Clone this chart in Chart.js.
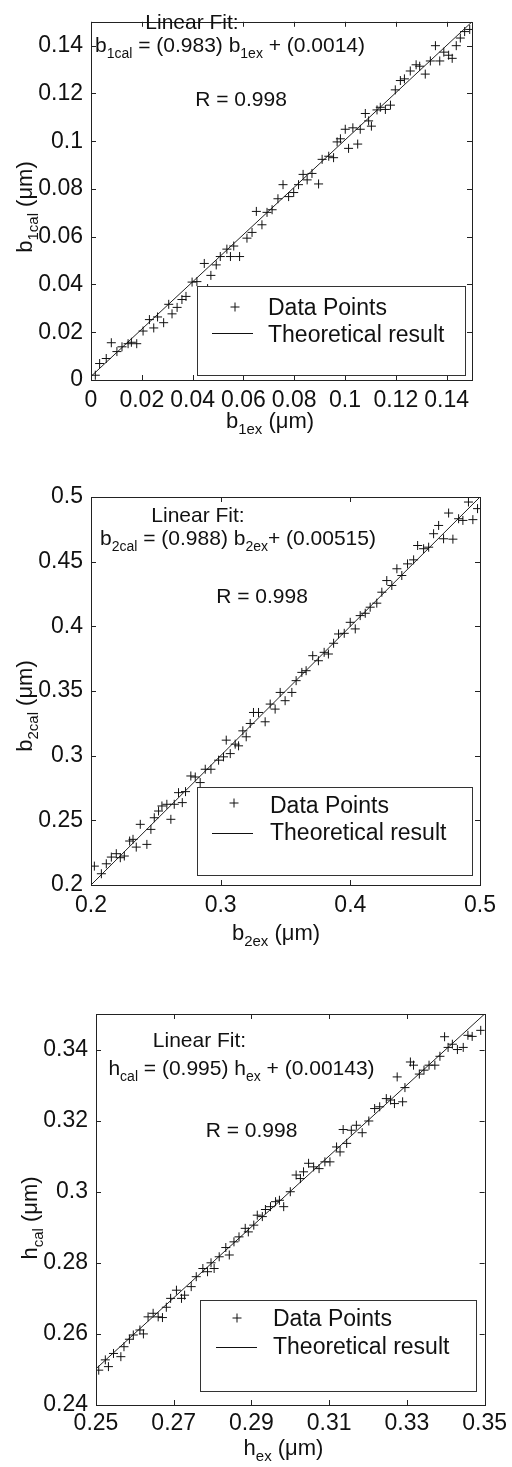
<!DOCTYPE html>
<html>
<head>
<meta charset="utf-8">
<script src="https://cdn.jsdelivr.net/npm/chart.js@4.4.1/dist/chart.umd.min.js"></script>
<style>
  body { margin: 0; background: #fff; width: 512px; height: 1467px; position: relative; overflow: hidden; }
  canvas { position: absolute; left: 0; }
</style>
</head>
<body>
<canvas id="c1" width="512" height="440" style="top:0px"></canvas>
<canvas id="c2" width="512" height="520" style="top:440px"></canvas>
<canvas id="c3" width="512" height="507" style="top:960px"></canvas>
<script>
// ---- data: b1 ----
var b1ex  = [0.0017,0.0034,0.006,0.008,0.0102,0.0122,0.0146,0.0159,0.018,0.0205,0.023,0.0247,0.0262,0.0286,0.0306,0.0319,0.0339,0.0358,0.0374,0.0398,0.0417,0.0446,0.0459,0.0472,0.0493,0.0509,0.0535,0.0549,0.0562,0.0585,0.0614,0.0634,0.0651,0.0673,0.0693,0.0713,0.0736,0.0756,0.0778,0.0798,0.0817,0.0835,0.0851,0.087,0.0896,0.091,0.0936,0.0955,0.0969,0.0982,0.1001,0.1014,0.1031,0.105,0.106,0.108,0.1093,0.1104,0.1126,0.1139,0.1159,0.1179,0.1198,0.1218,0.1234,0.1257,0.128,0.1294,0.1316,0.1336,0.1356,0.1373,0.1389,0.1408,0.1422,0.1438,0.1454,0.1471,0.1491];
var b1cal = [0.002,0.0069,0.009,0.0156,0.0119,0.0139,0.0152,0.0158,0.0152,0.0205,0.0253,0.0218,0.0264,0.024,0.0317,0.0277,0.0304,0.0337,0.035,0.041,0.0412,0.0488,0.0383,0.0438,0.0482,0.0517,0.0548,0.0517,0.0561,0.0517,0.0594,0.0618,0.0706,0.065,0.0702,0.0713,0.0759,0.0818,0.0768,0.0785,0.0818,0.0861,0.0838,0.0865,0.0821,0.0924,0.0937,0.0931,0.0997,0.101,0.105,0.097,0.1056,0.0988,0.105,0.1116,0.1085,0.1063,0.1131,0.1142,0.1133,0.1151,0.1215,0.1254,0.1261,0.1294,0.132,0.1314,0.1281,0.1336,0.14,0.1336,0.1373,0.136,0.1347,0.14,0.1432,0.1459,0.1468];
var b1LineX = [0, 0.15];
var b1LineY = [0.0015, 0.15];
var b1TicksX = [0, 0.02, 0.04, 0.06, 0.08, 0.1, 0.12, 0.14];
var b1TicksY = [0, 0.02, 0.04, 0.06, 0.08, 0.1, 0.12, 0.14];

// ---- data: b2 ----
var b2ex  = [0.2026,0.208,0.2118,0.2157,0.2195,0.2226,0.2257,0.2298,0.2324,0.2349,0.238,0.2431,0.2462,0.2488,0.2521,0.2547,0.2585,0.2616,0.2642,0.2675,0.2704,0.2729,0.277,0.2804,0.2842,0.2881,0.2925,0.2984,0.3022,0.3043,0.3074,0.3112,0.3138,0.3171,0.3197,0.3228,0.3253,0.3292,0.3343,0.3382,0.342,0.3459,0.3497,0.3549,0.3582,0.3626,0.3659,0.371,0.3754,0.3798,0.3831,0.3871,0.3909,0.3953,0.3999,0.4038,0.4076,0.4115,0.4153,0.4204,0.4243,0.4281,0.432,0.4359,0.4397,0.4441,0.4488,0.4519,0.4565,0.4604,0.4642,0.4681,0.4719,0.4758,0.4791,0.4835,0.4868,0.4911,0.4945,0.4981];
var b2cal = [0.2146,0.2087,0.2164,0.2216,0.2242,0.2211,0.2224,0.234,0.2353,0.2293,0.2469,0.2314,0.243,0.252,0.2572,0.2611,0.2624,0.2508,0.2624,0.2714,0.2637,0.2722,0.2843,0.2835,0.2792,0.2895,0.2895,0.2965,0.2991,0.312,0.3016,0.3089,0.3076,0.3192,0.3146,0.3249,0.3334,0.3334,0.3262,0.3399,0.336,0.3489,0.3425,0.3489,0.358,0.3644,0.3657,0.3773,0.3734,0.3799,0.3786,0.3869,0.3941,0.3946,0.4031,0.398,0.4083,0.4101,0.4148,0.4179,0.4264,0.4354,0.4316,0.4445,0.4393,0.4483,0.4514,0.4625,0.46,0.4612,0.4716,0.478,0.4677,0.4876,0.4674,0.4832,0.4819,0.4961,0.4825,0.491];
var b2LineX = [0.2, 0.5];
var b2LineY = [0.2, 0.5];
var b2TicksX = [0.2, 0.3, 0.4, 0.5];
var b2TicksY = [0.2, 0.25, 0.3, 0.35, 0.4, 0.45, 0.5];

// ---- data: h ----
var hex  = [0.2507,0.2524,0.2532,0.2545,0.2564,0.2572,0.2586,0.2596,0.2613,0.2622,0.2634,0.2647,0.266,0.2671,0.2681,0.2692,0.2707,0.272,0.2728,0.2745,0.2758,0.2775,0.2787,0.2796,0.2804,0.2817,0.2834,0.2843,0.2855,0.2868,0.2884,0.2892,0.2906,0.2915,0.2928,0.2936,0.2949,0.2962,0.2972,0.2983,0.3,0.3015,0.3026,0.3034,0.3047,0.306,0.3074,0.3089,0.3102,0.3119,0.3128,0.3136,0.3145,0.3157,0.317,0.3185,0.3202,0.3217,0.323,0.3247,0.3258,0.3268,0.3275,0.3289,0.3295,0.3309,0.3317,0.3332,0.3344,0.3357,0.3372,0.3385,0.3397,0.3406,0.3417,0.343,0.3445,0.3457,0.3468,0.349];
var hcal = [0.2498,0.2527,0.2508,0.2545,0.2536,0.2564,0.2585,0.2597,0.2611,0.26,0.2648,0.2658,0.2648,0.2646,0.2675,0.27,0.2723,0.27,0.2709,0.2733,0.2761,0.2784,0.2775,0.28,0.2784,0.2817,0.2843,0.2822,0.2859,0.2873,0.2897,0.2887,0.2906,0.2934,0.293,0.295,0.2958,0.2972,0.2976,0.2958,0.3,0.3047,0.3037,0.3056,0.308,0.307,0.3065,0.3084,0.3084,0.3126,0.3112,0.3175,0.3136,0.3173,0.3187,0.3166,0.3199,0.3234,0.3239,0.3262,0.3258,0.3248,0.3323,0.3253,0.3293,0.3365,0.3356,0.3331,0.3342,0.3356,0.3356,0.3381,0.3436,0.3406,0.3415,0.34,0.3406,0.344,0.3437,0.3454];
var hLineX = [0.25, 0.35];
var hLineY = [0.2502, 0.35];
var hTicksX = [0.25, 0.27, 0.29, 0.31, 0.33, 0.35];
var hTicksY = [0.24, 0.26, 0.28, 0.3, 0.32, 0.34];

var FONT = '"Liberation Sans", Arial, Helvetica, sans-serif';
var INK = '#111';
Chart.defaults.font.family = FONT;

function zip(xs, ys) {
  return xs.map(function (x, i) { return { x: x, y: ys[i] }; });
}

// text with subscripts: segs = [[text, isSub], ...]
function richText(ctx, segs, x, y, size, rotate) {
  var sub = Math.round(size * 0.66);
  var w = 0;
  segs.forEach(function (s) {
    ctx.font = (s[1] ? sub : size) + 'px ' + FONT;
    s.w = ctx.measureText(s[0]).width;
    w += s.w;
  });
  ctx.save();
  ctx.translate(x, y);
  if (rotate) ctx.rotate(-Math.PI / 2);
  ctx.fillStyle = INK;
  ctx.textAlign = 'left';
  ctx.textBaseline = 'alphabetic';
  var cx = -w / 2;
  segs.forEach(function (s) {
    ctx.font = (s[1] ? sub : size) + 'px ' + FONT;
    ctx.fillText(s[0], cx, s[1] ? size * 0.28 : 0);
    cx += s.w;
  });
  ctx.restore();
}

var framePlugin = {
  id: 'frame',
  afterDatasetsDraw: function (chart) {
    var ctx = chart.ctx, a = chart.chartArea, p = chart.options.plugins.frame;
    var xs = chart.scales.x, ys = chart.scales.y;
    ctx.save();
    ctx.strokeStyle = '#222';
    ctx.lineWidth = 1;
    ctx.strokeRect(Math.round(a.left) + 0.5, Math.round(a.top) + 0.5, Math.round(a.right - a.left), Math.round(a.bottom - a.top));
    // inner ticks on all four sides
    ctx.beginPath();
    xs.ticks.forEach(function (t) {
      var px = Math.round(xs.getPixelForValue(t.value)) + 0.5;
      ctx.moveTo(px, a.bottom); ctx.lineTo(px, a.bottom - 5);
      ctx.moveTo(px, a.top); ctx.lineTo(px, a.top + 5);
    });
    ys.ticks.forEach(function (t) {
      var py = Math.round(ys.getPixelForValue(t.value)) + 0.5;
      ctx.moveTo(a.left, py); ctx.lineTo(a.left + 5, py);
      ctx.moveTo(a.right, py); ctx.lineTo(a.right - 5, py);
    });
    ctx.stroke();

    // legend box
    var L = p.legend;
    ctx.fillStyle = '#fff';
    ctx.fillRect(L.x0, L.y0, L.x1 - L.x0, L.y1 - L.y0);
    ctx.strokeStyle = '#333';
    ctx.strokeRect(L.x0 + 0.5, L.y0 + 0.5, L.x1 - L.x0, L.y1 - L.y0);
    ctx.strokeStyle = INK;
    ctx.beginPath();
    ctx.moveTo(L.mx - 4.5, L.my); ctx.lineTo(L.mx + 4.5, L.my);
    ctx.moveTo(L.mx, L.my - 4.5); ctx.lineTo(L.mx, L.my + 4.5);
    ctx.moveTo(L.lx0, L.ly + 0.5); ctx.lineTo(L.lx1, L.ly + 0.5);
    ctx.stroke();
    ctx.fillStyle = INK;
    ctx.font = '23px ' + FONT;
    ctx.textAlign = 'left';
    ctx.textBaseline = 'alphabetic';
    ctx.fillText(chart.data.datasets[0].label, L.tx, L.t1);
    ctx.fillText(chart.data.datasets[1].label, L.tx, L.t2);
    ctx.restore();

    // annotations and axis titles
    p.texts.forEach(function (t) {
      richText(ctx, t.segs, t.x, t.y, t.size, t.rot);
    });
  }
};

function makeChart(id, p) {
  var cv = document.getElementById(id);
  var H = cv.height;
  var tickFont = { size: 23, family: FONT };
  function fmt(v) { return String(+v.toFixed(4)); }
  return new Chart(cv.getContext('2d'), {
    type: 'scatter',
    data: {
      datasets: [
        { label: 'Data Points', data: zip(p.xs, p.ys), pointStyle: 'cross', pointRadius: 4.5,
          pointBorderColor: INK, pointBorderWidth: 1, showLine: false, order: 1 },
        { label: 'Theoretical result', data: zip(p.lx, p.ly), showLine: true, borderColor: '#222',
          borderWidth: 1, pointRadius: 0, fill: false, order: 2 }
      ]
    },
    options: {
      responsive: false,
      animation: false,
      events: [],
      layout: { padding: { left: 0, top: p.area.top, right: 512 - p.area.right, bottom: 0 } },
      plugins: {
        legend: { display: false },
        tooltip: { enabled: false },
        frame: { legend: p.legend, texts: p.texts }
      },
      scales: {
        x: {
          type: 'linear', min: p.xr[0], max: p.xr[1],
          afterBuildTicks: function (s) { s.ticks = p.xt.map(function (v) { return { value: v }; }); },
          afterFit: function (s) { s.height = H - p.area.bottom; },
          grid: { display: false, drawTicks: false },
          border: { display: false },
          ticks: { color: INK, font: tickFont, padding: p.xpad, autoSkip: false, maxRotation: 0, minRotation: 0, callback: fmt }
        },
        y: {
          type: 'linear', min: p.yr[0], max: p.yr[1],
          afterBuildTicks: function (s) { s.ticks = p.yt.map(function (v) { return { value: v }; }); },
          afterFit: function (s) { s.width = p.area.left; },
          grid: { display: false, drawTicks: false },
          border: { display: false },
          ticks: { color: INK, font: tickFont, padding: 8, autoSkip: false, callback: fmt }
        }
      }
    },
    plugins: [framePlugin]
  });
}

makeChart('c1', {
  xs: b1ex, ys: b1cal, lx: b1LineX, ly: b1LineY, xt: b1TicksX, yt: b1TicksY,
  xr: [0, 0.15], yr: [0, 0.15], xpad: 7,
  area: { left: 91, top: 4, right: 472, bottom: 380 },
  legend: { x0: 197, y0: 286, x1: 465, y1: 375, mx: 235, my: 307, lx0: 212, lx1: 253, ly: 333, tx: 268, t1: 315, t2: 342 },
  texts: [
    { x: 192, y: 28.5, size: 21, segs: [['Linear Fit:']] },
    { x: 230, y: 52, size: 21, segs: [['b'], ['1cal', 1], [' = (0.983) b'], ['1ex', 1], [' + (0.0014)']] },
    { x: 241, y: 106, size: 21, segs: [['R = 0.998']] },
    { x: 270, y: 428, size: 22, segs: [['b'], ['1ex', 1], [' (\u03bcm)']] },
    { x: 32, y: 207, size: 22, rot: 1, segs: [['b'], ['1cal', 1], [' (\u03bcm)']] }
  ]
});

makeChart('c2', {
  xs: b2ex, ys: b2cal, lx: b2LineX, ly: b2LineY, xt: b2TicksX, yt: b2TicksY,
  xr: [0.2, 0.5], yr: [0.2, 0.5], xpad: 7,
  area: { left: 91, top: 57, right: 480, bottom: 445 },
  legend: { x0: 197, y0: 347, x1: 472, y1: 435, mx: 234, my: 363, lx0: 212, lx1: 253, ly: 393, tx: 270, t1: 373, t2: 400 },
  texts: [
    { x: 198, y: 81.7, size: 21, segs: [['Linear Fit:']] },
    { x: 238, y: 105, size: 21, segs: [['b'], ['2cal', 1], [' = (0.988) b'], ['2ex', 1], ['+ (0.00515)']] },
    { x: 262, y: 163, size: 21, segs: [['R = 0.998']] },
    { x: 276, y: 500, size: 22, segs: [['b'], ['2ex', 1], [' (\u03bcm)']] },
    { x: 32, y: 266, size: 22, rot: 1, segs: [['b'], ['2cal', 1], [' (\u03bcm)']] }
  ]
});

makeChart('c3', {
  xs: hex, ys: hcal, lx: hLineX, ly: hLineY, xt: hTicksX, yt: hTicksY,
  xr: [0.25, 0.35], yr: [0.24, 0.35], xpad: 5,
  area: { left: 96, top: 54, right: 488, bottom: 445 },
  legend: { x0: 200, y0: 340, x1: 476, y1: 431, mx: 237, my: 358, lx0: 216, lx1: 257, ly: 387, tx: 273, t1: 366, t2: 394 },
  texts: [
    { x: 199.5, y: 87, size: 21, segs: [['Linear Fit:']] },
    { x: 241.5, y: 115, size: 21, segs: [['h'], ['cal', 1], [' = (0.995) h'], ['ex', 1], [' + (0.00143)']] },
    { x: 251.5, y: 177, size: 21, segs: [['R = 0.998']] },
    { x: 283.5, y: 495, size: 22, segs: [['h'], ['ex', 1], [' (\u03bcm)']] },
    { x: 37, y: 258, size: 22, rot: 1, segs: [['h'], ['cal', 1], [' (\u03bcm)']] }
  ]
});
</script>
</body>
</html>
